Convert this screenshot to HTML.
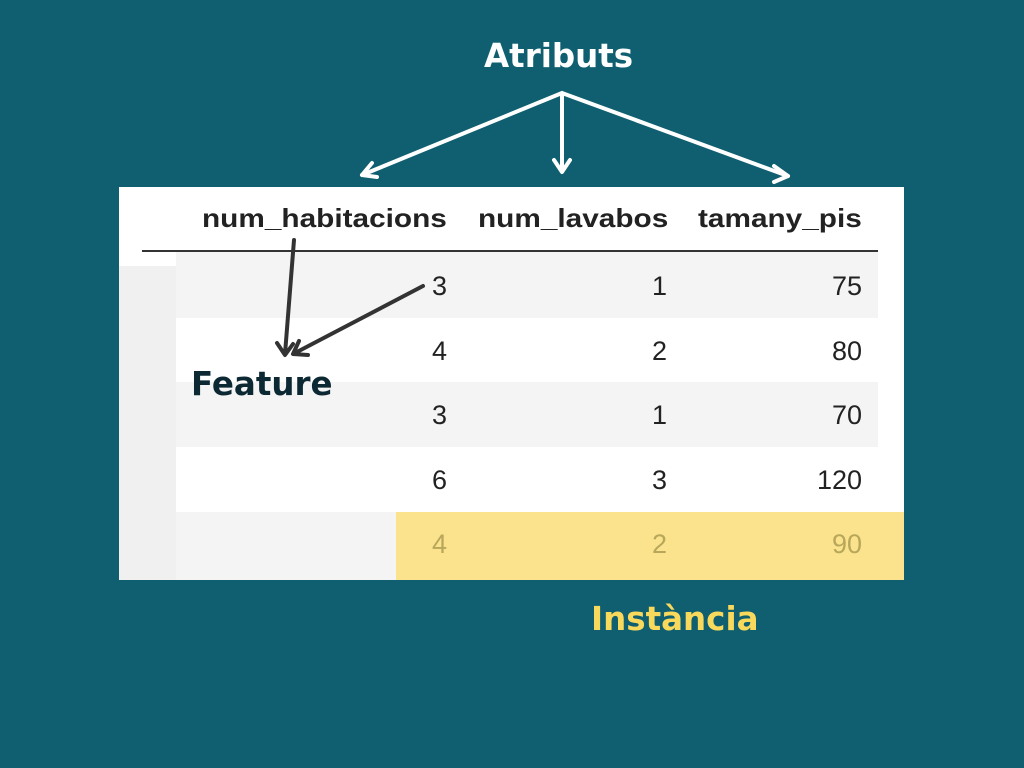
<!DOCTYPE html>
<html><head><meta charset="utf-8"><style>
body{margin:0;width:1024px;height:768px;background:#0f5f70;position:relative;overflow:hidden;font-family:"Liberation Sans",sans-serif}
.a{position:absolute}
.num{position:absolute;font-size:27px;color:#222;text-align:right;width:80px;line-height:30px}
.h{position:absolute;font-size:26px;font-weight:bold;color:#222;top:202px;line-height:32px;transform:scaleX(1.145);transform-origin:0 0;white-space:nowrap}
.t{position:absolute;font-weight:bold;font-family:"DejaVu Sans","Liberation Sans",sans-serif}
</style></head><body>
<div class="a" style="left:119px;top:187px;width:785px;height:393px;background:#fff"></div>
<div class="a" style="left:119px;top:266px;width:57px;height:314px;background:#f0f0f0"></div>
<div class="a" style="left:176px;top:252px;width:702px;height:66px;background:#f4f4f4"></div>
<div class="a" style="left:176px;top:382px;width:702px;height:65px;background:#f4f4f4"></div>
<div class="a" style="left:176px;top:512px;width:702px;height:68px;background:#f4f4f4"></div>
<div class="a" style="left:396px;top:512px;width:508px;height:68px;background:#fae38c"></div>
<div class="a" style="left:142px;top:250px;width:736px;height:2px;background:#333"></div>
<div class="h" style="left:202px">num_habitacions</div>
<div class="h" style="left:478px">num_lavabos</div>
<div class="h" style="left:698px">tamany_pis</div>
<div class="num" style="left:367px;top:271px">3</div><div class="num" style="left:587px;top:271px">1</div><div class="num" style="left:782px;top:271px">75</div>
<div class="num" style="left:367px;top:336px">4</div><div class="num" style="left:587px;top:336px">2</div><div class="num" style="left:782px;top:336px">80</div>
<div class="num" style="left:367px;top:400px">3</div><div class="num" style="left:587px;top:400px">1</div><div class="num" style="left:782px;top:400px">70</div>
<div class="num" style="left:367px;top:465px">6</div><div class="num" style="left:587px;top:465px">3</div><div class="num" style="left:782px;top:465px">120</div>
<div class="num" style="left:367px;top:529px;color:#b8a75a">4</div><div class="num" style="left:587px;top:529px;color:#b8a75a">2</div><div class="num" style="left:782px;top:529px;color:#b8a75a">90</div>
<svg class="a" style="left:0;top:0" width="1024" height="768">
<g stroke="#fff" stroke-width="4" fill="none" stroke-linecap="round" stroke-linejoin="round">
<path d="M562 93 L362 175 M562 93 L562 170 M562 93 L788 176"/>
<path d="M372 163 L362 175 L377 177 M554 160 L562 172 L570 160 M774 166 L788 176 L774 182"/>
</g>
<g stroke="#333" stroke-width="4" fill="none" stroke-linecap="round" stroke-linejoin="round">
<path d="M294 240 L285 354 M423 286 L295 353"/>
<path d="M277 343 L285 355 L293 344 M299 341 L293 354 L308 355"/>
</g>
</svg>
<div class="t" style="left:484px;top:37px;font-size:32.5px;color:#fff">Atributs</div>
<div class="t" style="left:191px;top:365px;font-size:32.5px;color:#0c2833">Feature</div>
<div class="t" style="left:591px;top:600px;font-size:32.5px;color:#f9d95b">Instància</div>
</body></html>
